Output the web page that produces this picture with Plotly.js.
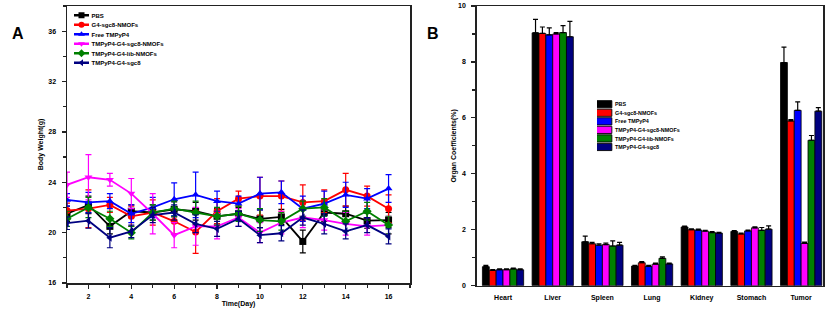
<!DOCTYPE html>
<html><head><meta charset="utf-8">
<script src="https://cdn.plot.ly/plotly-3.0.1.min.js"></script>
<style>html,body{margin:0;padding:0;background:#fff;} #chart{width:829px;height:310px;}</style>
</head><body><div id="chart"></div>
<script>
// ---------- Panel A: body weight ----------
const days = [1,2,3,4,5,6,7,8,9,10,11,12,13,14,15,16];
const groupNames = ['PBS','G4-sgc8-NMOFs','Free TMPyP4','TMPyP4-G4-sgc8-NMOFs','TMPyP4-G4-lib-NMOFs','TMPyP4-G4-sgc8'];
const groupColors = ['#000000','#ff0000','#0000ff','#ff00ff','#008000','#000080'];
const groupSymbols = ['square','circle','triangle-up','triangle-down','diamond','triangle-left'];

const weightPBS      = [21.5,22.2,20.5,21.7,21.6,21.85,21.7,21.3,21.5,21.1,21.25,19.3,21.6,21.5,20.95,21.0];
const weightG4NMOF   = [21.75,21.9,22.2,21.3,21.6,20.9,20.05,21.7,22.7,22.9,22.9,22.4,22.5,23.4,22.9,21.9];
const weightFree     = [22.6,22.4,22.5,21.5,22.0,22.65,23.0,22.5,22.3,23.1,23.2,21.9,22.3,23.0,22.7,23.5];
const weightSgcNMOF  = [23.8,24.4,24.2,23.1,21.5,19.8,20.5,20.5,21.2,20.0,20.8,21.2,21.0,20.7,20.5,20.6];
const weightLibNMOF  = [21.1,22.0,21.1,20.0,21.6,21.9,21.6,21.3,21.5,21.0,20.9,21.9,22.0,20.9,21.7,20.6];
const weightSgc8     = [20.75,20.95,19.6,20.1,21.4,21.6,20.7,20.3,21.1,19.8,19.95,21.2,20.7,20.1,20.6,19.7];

const errPBS     = [0.6,0.7,0.6,0.5,0.6,0.6,0.7,0.6,0.5,0.7,0.6,0.9,0.7,0.6,0.6,0.6];
const errG4NMOF  = [0.6,1.5,0.6,0.8,1.0,1.0,1.7,1.0,0.6,1.5,1.2,1.4,0.9,1.3,0.8,1.1];
const errFree    = [0.5,0.8,0.6,0.7,0.8,1.3,1.8,0.8,0.6,1.3,0.9,1.0,1.0,1.0,0.8,1.1];
const errSgcNMOF = [1.0,1.8,0.5,1.2,1.6,1.0,1.5,1.0,0.7,0.8,0.9,0.8,0.8,0.9,0.7,0.7];
const errLibNMOF = [0.6,0.8,0.6,0.5,0.6,0.6,0.9,0.7,0.6,0.9,0.7,0.6,0.7,0.8,0.7,0.7];
const errSgc8    = [0.5,0.6,0.8,0.5,0.6,0.6,0.7,0.6,0.6,0.6,0.6,0.6,0.8,0.6,0.6,0.6];

// ---------- Panel B: organ coefficients ----------
const organs = ['Heart','Liver','Spleen','Lung','Kidney','Stomach','Tumor'];
const organPBS     = [0.68,9.04,1.57,0.70,2.10,1.94,7.98];
const organG4NMOF  = [0.55,9.02,1.50,0.82,2.00,1.85,5.89];
const organFree    = [0.57,8.97,1.45,0.69,1.99,1.96,6.27];
const organSgcNMOF = [0.57,9.00,1.47,0.77,1.95,2.07,1.51];
const organLibNMOF = [0.60,9.05,1.42,0.98,1.90,1.98,5.20];
const organSgc8    = [0.57,8.90,1.45,0.78,1.88,2.02,6.24];

const organErrPBS     = [0.05,0.48,0.20,0.03,0.03,0.03,0.55];
const organErrG4NMOF  = [0.03,0.23,0.05,0.04,0.03,0.03,0.05];
const organErrFree    = [0.03,0.25,0.05,0.04,0.03,0.03,0.30];
const organErrSgcNMOF = [0.03,0.05,0.05,0.04,0.03,0.03,0.05];
const organErrLibNMOF = [0.03,0.25,0.18,0.05,0.03,0.10,0.17];
const organErrSgc8    = [0.03,0.55,0.10,0.03,0.03,0.12,0.13];

const weights = [weightPBS,weightG4NMOF,weightFree,weightSgcNMOF,weightLibNMOF,weightSgc8];
const weightErrs = [errPBS,errG4NMOF,errFree,errSgcNMOF,errLibNMOF,errSgc8];
const organVals = [organPBS,organG4NMOF,organFree,organSgcNMOF,organLibNMOF,organSgc8];
const organErrs = [organErrPBS,organErrG4NMOF,organErrFree,organErrSgcNMOF,organErrLibNMOF,organErrSgc8];

const FONT = 'Liberation Sans, Arial, sans-serif';
const W = 829, H = 310;
const traces = [];
groupNames.forEach((name, i) => {
  traces.push({
    type: 'scatter', mode: 'lines+markers', x: days, y: weights[i], name: name,
    xaxis: 'x', yaxis: 'y', legend: 'legend',
    line: {color: groupColors[i], width: 1.8},
    marker: {color: groupColors[i], symbol: groupSymbols[i], size: 7},
    error_y: {type: 'data', array: weightErrs[i], visible: true, color: groupColors[i], thickness: 1.2, width: 3}
  });
});
groupNames.forEach((name, i) => {
  traces.push({
    type: 'bar', x: organs, y: organVals[i], name: name,
    xaxis: 'x2', yaxis: 'y2', legend: 'legend2',
    marker: {color: groupColors[i], line: {color: '#000', width: 0.8}},
    error_y: {type: 'data', symmetric: false, array: organErrs[i], arrayminus: organErrs[i].map(() => 0),
              visible: true, color: '#000', thickness: 1.2, width: 2.5}
  });
});

const axisCommon = {
  showline: true, mirror: true, linecolor: '#222', linewidth: 1.5,
  showgrid: false, zeroline: false,
  tickfont: {family: FONT, size: 7, weight: 'bold', color: '#000'},
  ticks: 'outside', ticklen: 4, tickwidth: 1.2, tickcolor: '#222'
};
const legendCommon = {
  xref: 'paper', yref: 'paper', xanchor: 'left', yanchor: 'top',
  bgcolor: 'rgba(0,0,0,0)', borderwidth: 0, itemsizing: 'constant',
  font: {family: FONT, size: 12, weight: 'bold', color: '#000'}, tracegroupgap: 0
};

const layout = {
  width: W, height: H, margin: {l: 0, r: 0, t: 0, b: 0},
  paper_bgcolor: '#fff', plot_bgcolor: '#fff', showlegend: true,
  barmode: 'group', bargap: 0.17, bargroupgap: 0,
  xaxis: Object.assign({}, axisCommon, {
    domain: [67/W, 410/W], range: [1, 17], tick0: 0, dtick: 2,
    minor: {dtick: 1, ticks: 'outside', ticklen: 3, tickcolor: '#222'},
    ticklabelstandoff: 2,
    title: {text: 'Time(Day)', font: {family: FONT, size: 7, weight: 'bold', color: '#000'}, standoff: 2}
  }),
  yaxis: Object.assign({}, axisCommon, {
    domain: [(H-283)/H, (H-6)/H], range: [16, 38], tick0: 16, dtick: 4,
    minor: {dtick: 2, ticks: 'outside', ticklen: 3, tickcolor: '#222'},
    ticklabelstandoff: 4,
    title: {text: 'Body Weight(g)', font: {family: FONT, size: 7, weight: 'bold', color: '#000'}, standoff: 4}
  }),
  xaxis2: Object.assign({}, axisCommon, {
    domain: [476.7/W, 823/W], range: [-0.53, 6.44], ticks: '', type: 'category',
    ticklabelstandoff: 4
  }),
  yaxis2: Object.assign({}, axisCommon, {
    anchor: 'x2', domain: [(H-285.7)/H, (H-6)/H], range: [0, 10], tick0: 0, dtick: 2,
    minor: {dtick: 1, ticks: 'outside', ticklen: 3, tickcolor: '#222'},
    ticklabelstandoff: 4,
    title: {text: 'Organ Coefficients(%)', font: {family: FONT, size: 7, weight: 'bold', color: '#000'}, standoff: 0}
  }),
  legend: Object.assign({}, legendCommon, {x: 71.5/W, y: (H-8)/H}),
  legend2: Object.assign({}, legendCommon, {x: 597/W, y: (H-97.7)/H}),
  annotations: [
    {text: 'A', xref: 'paper', yref: 'paper', x: 9.5/W, y: (H-22.5)/H, showarrow: false,
     font: {family: FONT, size: 16, weight: 'bold', color: '#000'}},
    {text: 'B', xref: 'paper', yref: 'paper', x: 432.5/W, y: (H-22.5)/H, showarrow: false,
     font: {family: FONT, size: 16, weight: 'bold', color: '#000'}}
  ]
};
layout.xaxis2.anchor = 'y2';

Plotly.newPlot('chart', traces, layout, {staticPlot: true, displayModeBar: false}).then(() => {
  const lgA = document.querySelector('.infolayer g.legend');
  if (lgA) lgA.setAttribute('transform', (lgA.getAttribute('transform') || '') + ' scale(0.5)');
  const lgB = document.querySelector('.infolayer g.legend2');
  if (lgB) {
    lgB.setAttribute('transform', (lgB.getAttribute('transform') || '') + ' scale(0.45)');
    // widen the bar swatches to the reference's flat rectangular keys
    lgB.querySelectorAll('.legendpoints path.legendundefined, .legendpoints path').forEach(p => {
      p.setAttribute('d', 'M13,8H-22V-8H13Z');
    });
  }
});
</script>
</body></html>
